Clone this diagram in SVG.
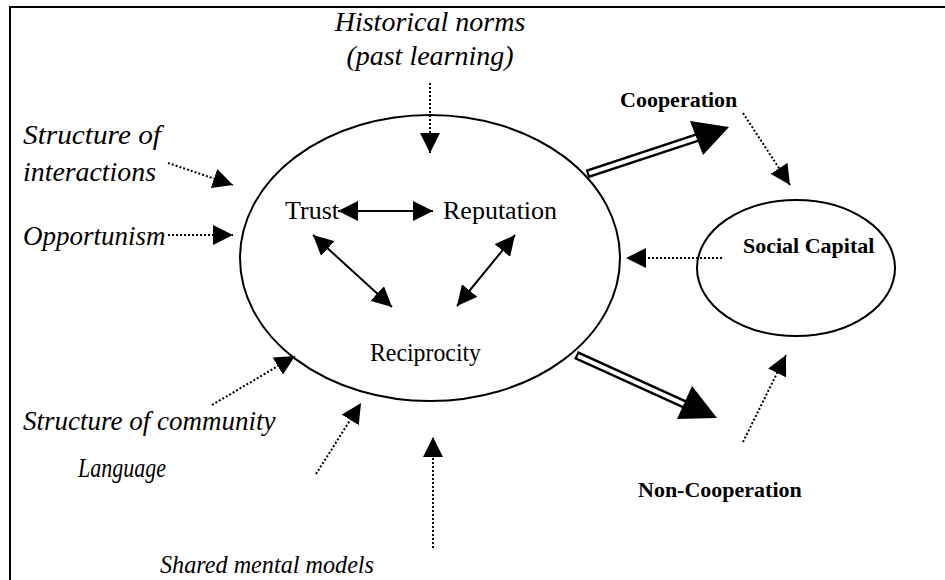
<svg xmlns="http://www.w3.org/2000/svg" width="945" height="580" viewBox="0 0 945 580">
  <defs>
    <marker id="head" viewBox="0 0 20 20" refX="20" refY="10" markerWidth="20" markerHeight="20" markerUnits="userSpaceOnUse" orient="auto-start-reverse">
      <path d="M0,0 L20,10 L0,20 Z" fill="#000"/>
    </marker>
  </defs>
  <style>
    .frame { fill: none; stroke: #000; stroke-width: 2; }
    .oval { fill: #fff; stroke: #000; stroke-width: 2; }
    .lbl { font-family: "Liberation Serif", "Times New Roman", serif; font-size: 26px; fill: #000; }
    .it { font-style: italic; font-size: 27px; }
    .bd { font-weight: bold; font-size: 22px; }
    .mid { text-anchor: middle; }
    .solid { stroke: #000; stroke-width: 2; fill: none; }
    .dot { stroke: #000; stroke-width: 2; stroke-dasharray: 2 2; fill: none; }
    .dbl-out { stroke: #000; stroke-width: 9; fill: none; }
    .dbl-in { stroke: #fff; stroke-width: 4; fill: none; }
  </style>

  <rect class="frame" x="10" y="7" width="960" height="600"/>

  <g id="core">
    <ellipse class="oval" cx="430" cy="258" rx="190" ry="143"/>
  </g>
  <g id="social-capital">
    <ellipse class="oval" cx="796" cy="268" rx="99" ry="68"/>
    <text class="lbl bd" x="743" y="253">Social Capital</text>
  </g>
  <g id="trust"><text class="lbl" x="285" y="219">Trust</text></g>
  <g id="reputation"><text class="lbl" x="443" y="219">Reputation</text></g>
  <g id="reciprocity"><text class="lbl" x="370" y="361" textLength="111" lengthAdjust="spacingAndGlyphs">Reciprocity</text></g>
  <g id="cooperation"><text class="lbl bd" x="620" y="107">Cooperation</text></g>
  <g id="non-cooperation"><text class="lbl bd" x="638" y="497">Non-Cooperation</text></g>
  <g id="historical-norms">
    <text class="lbl it mid" x="430" y="31" style="font-size:28px">Historical norms</text>
    <text class="lbl it mid" x="430" y="65" style="font-size:28px">(past learning)</text>
  </g>
  <g id="structure-interactions">
    <text class="lbl it" x="23" y="144" textLength="138" lengthAdjust="spacingAndGlyphs">Structure of</text>
    <text class="lbl it" x="23" y="181" textLength="133" lengthAdjust="spacingAndGlyphs">interactions</text>
  </g>
  <g id="opportunism"><text class="lbl it" x="23" y="245">Opportunism</text></g>
  <g id="structure-community"><text class="lbl it" x="23" y="430">Structure of community</text></g>
  <g id="language"><text class="lbl it" x="78" y="477" textLength="88" lengthAdjust="spacingAndGlyphs">Language</text></g>
  <g id="shared-models"><text class="lbl it" x="160" y="573" style="font-size:25px" textLength="214" lengthAdjust="spacingAndGlyphs">Shared mental models</text></g>

  <g id="connectors">
    <!-- links inside the core -->
    <line class="solid" x1="338" y1="211" x2="433" y2="211" marker-start="url(#head)" marker-end="url(#head)"/>
    <line class="solid" x1="313" y1="235" x2="392" y2="307" marker-start="url(#head)" marker-end="url(#head)"/>
    <line class="solid" x1="515" y1="235" x2="457" y2="306" marker-start="url(#head)" marker-end="url(#head)"/>

    <!-- outside influences -->
    <line class="dot" x1="430" y1="83" x2="430" y2="153" marker-end="url(#head)"/>
    <line class="dot" x1="168" y1="163" x2="233" y2="185" marker-end="url(#head)"/>
    <line class="dot" x1="168" y1="235" x2="233" y2="235" marker-end="url(#head)"/>
    <line class="dot" x1="212" y1="405" x2="295" y2="356" marker-end="url(#head)"/>
    <line class="dot" x1="316" y1="474" x2="361" y2="403" marker-end="url(#head)"/>
    <line class="dot" x1="433" y1="548" x2="433" y2="437" marker-end="url(#head)"/>

    <!-- feedback to social capital -->
    <line class="dot" x1="743" y1="113" x2="790" y2="185" marker-end="url(#head)"/>
    <line class="dot" x1="743" y1="442" x2="786" y2="355" marker-end="url(#head)"/>
    <line class="dot" x1="722" y1="258" x2="626" y2="258" marker-end="url(#head)"/>

    <!-- outcomes -->
    <line class="dbl-out" x1="587" y1="174" x2="699" y2="137"/>
    <line class="dbl-in" x1="589" y1="173.3" x2="699" y2="137"/>
    <polygon points="729,127 690,121 703,155" fill="#000"/>
    <line class="dbl-out" x1="576" y1="355" x2="686" y2="405"/>
    <line class="dbl-in" x1="578" y1="356" x2="686" y2="405"/>
    <polygon points="717,418 692,386 677,419" fill="#000"/>
  </g>
</svg>
